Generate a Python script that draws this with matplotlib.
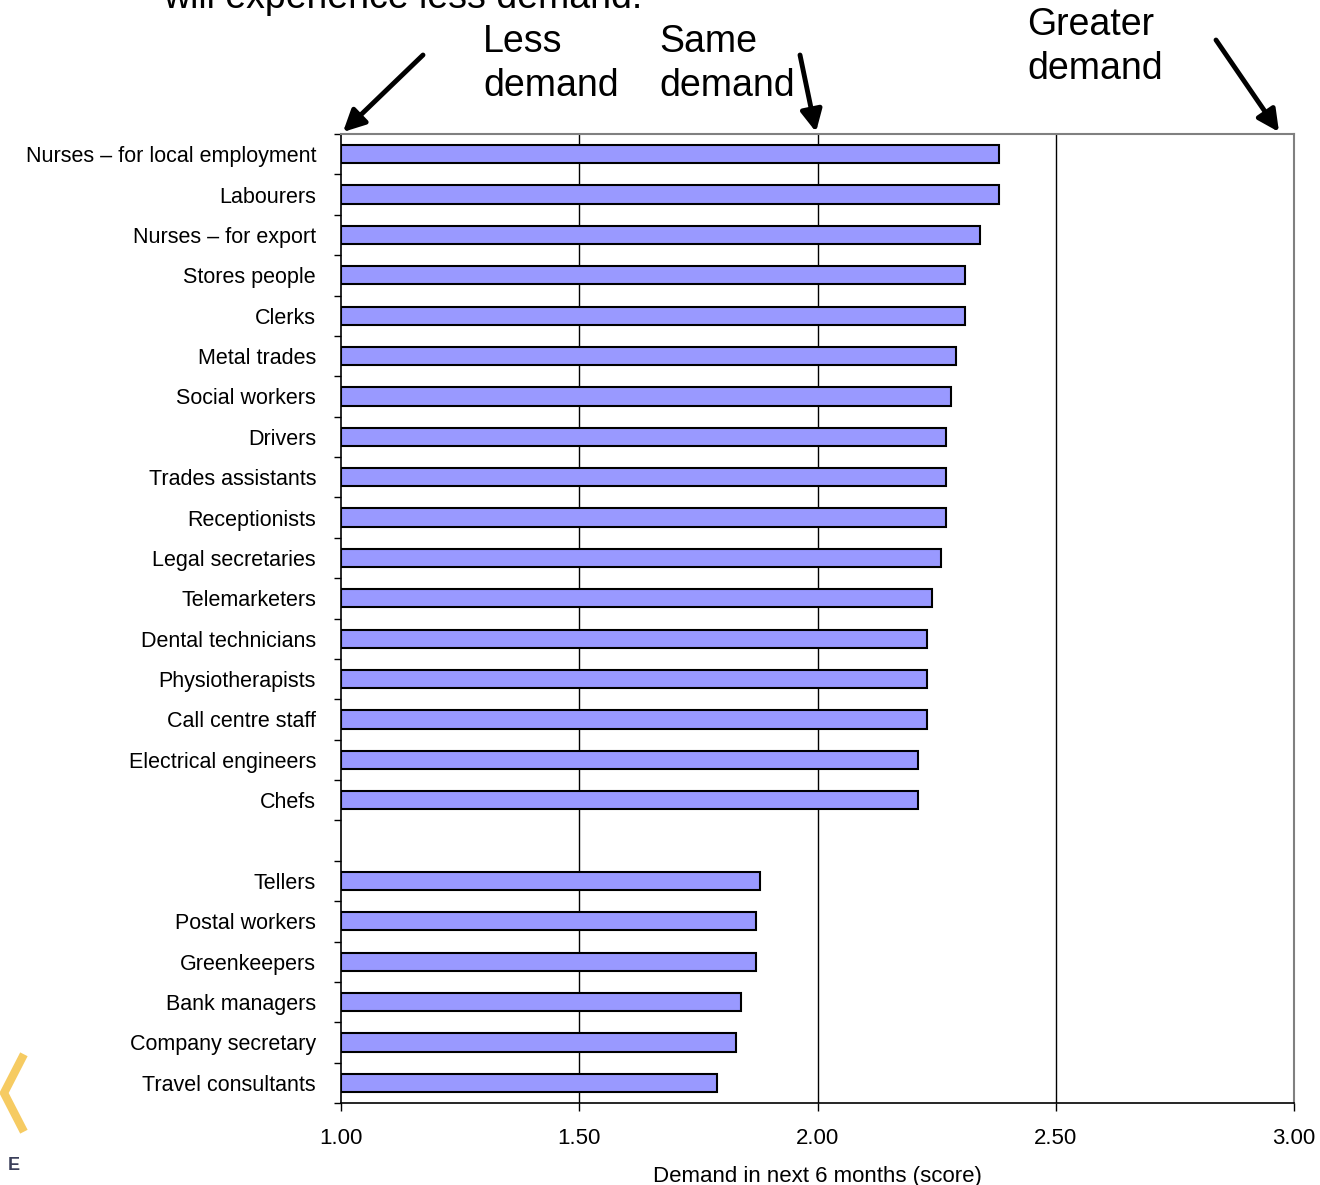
import matplotlib.pyplot as plt
from matplotlib.lines import Line2D
import numpy as np

plt.rcParams['font.family'] = ['Liberation Sans', 'DejaVu Sans']

# Occupations, top to bottom (blank slot between Chefs and Tellers)
top_group = ['Nurses \u2013 for local employment', 'Labourers', 'Nurses \u2013 for export',
             'Stores people', 'Clerks', 'Metal trades', 'Social workers', 'Drivers',
             'Trades assistants', 'Receptionists', 'Legal secretaries', 'Telemarketers',
             'Dental technicians', 'Physiotherapists', 'Call centre staff',
             'Electrical engineers', 'Chefs']
top_scores = [2.38, 2.38, 2.34, 2.31, 2.31, 2.29, 2.28, 2.27, 2.27, 2.27, 2.26, 2.24,
              2.23, 2.23, 2.23, 2.21, 2.21]

bottom_group = ['Tellers', 'Postal workers', 'Greenkeepers', 'Bank managers',
                'Company secretary', 'Travel consultants']
bottom_scores = [1.88, 1.87, 1.87, 1.84, 1.83, 1.79]

x_ticks = [1.0, 1.5, 2.0, 2.5, 3.0]

labels = top_group + bottom_group
scores = top_scores + bottom_scores
ypos = list(range(len(top_group))) + [len(top_group) + 1 + i for i in range(len(bottom_group))]
n_slots = len(top_group) + 1 + len(bottom_group)

W, H = 1320, 1185
fig = plt.figure(figsize=(W / 100, H / 100), dpi=100)
ax = fig.add_axes([341 / W, 1 - 1103 / H, (1294 - 341) / W, (1103 - 134) / H])

ax.barh(ypos, [s - 1 for s in scores], left=1, height=0.45,
        color='#9999FF', edgecolor='black', linewidth=1.5, zorder=3)

ax.set_xlim(1, 3)
ax.set_ylim(n_slots - 0.5, -0.5)

# vertical gridlines
for gx in x_ticks[1:-1]:
    ax.axvline(gx, color='black', linewidth=1, zorder=1)

ax.set_xticks(x_ticks)
ax.set_xticklabels(['%.2f' % v for v in x_ticks], fontsize=16)
ax.tick_params(axis='x', length=6, width=1, pad=12, colors='black')

# slot boundary ticks on y, labels at slot centres
ax.set_yticks(np.arange(-0.5, n_slots, 1.0))
ax.set_yticklabels([])
ax.tick_params(axis='y', length=5, width=1)
ax.set_yticks(ypos, minor=True)
ax.set_yticklabels(labels, minor=True, fontsize=15.5)
ax.tick_params(axis='y', which='minor', length=0, pad=18)

for side in ['top', 'right']:
    ax.spines[side].set_color('#808080')
    ax.spines[side].set_linewidth(1.5)
for side in ['left', 'bottom']:
    ax.spines[side].set_linewidth(1.2)

ax.set_xlabel('Demand in next 6 months (score)', fontsize=16, labelpad=12)

# annotations at the top
def px(x, y):
    return (x / W, 1 - y / H)

big = dict(fontsize=27, va='baseline')
fig.text(*px(163, 8), 'will experience less demand.', **big)
fig.text(*px(483, 52), 'Less', **big)
fig.text(*px(483, 96), 'demand', **big)
fig.text(*px(659, 52), 'Same', **big)
fig.text(*px(659, 96), 'demand', **big)
fig.text(*px(1027, 35), 'Greater', **big)
fig.text(*px(1027, 79), 'demand', **big)

arrow_kw = dict(arrowstyle='-|>,head_width=0.65,head_length=1.3', color='black', lw=3.5,
                shrinkA=0, shrinkB=0)
for start, end in [((423, 55), (343, 132)), ((800, 55), (816, 132)), ((1216, 40), (1279, 132))]:
    ax.annotate('', xy=px(*end), xytext=px(*start), xycoords='figure fraction',
                textcoords='figure fraction', arrowprops=arrow_kw, annotation_clip=False)

# logo fragment bottom-left
fig.add_artist(Line2D([22 / W, 4 / W, 22 / W], [1 - 1058 / H, 1 - 1093 / H, 1 - 1128 / H],
                      color='#F6CB62', linewidth=6, solid_joinstyle='miter'))
fig.text(*px(8, 1170), 'E', fontsize=13, color='#3b3f5a', fontweight='bold')

fig.savefig('out.png', dpi=100)
